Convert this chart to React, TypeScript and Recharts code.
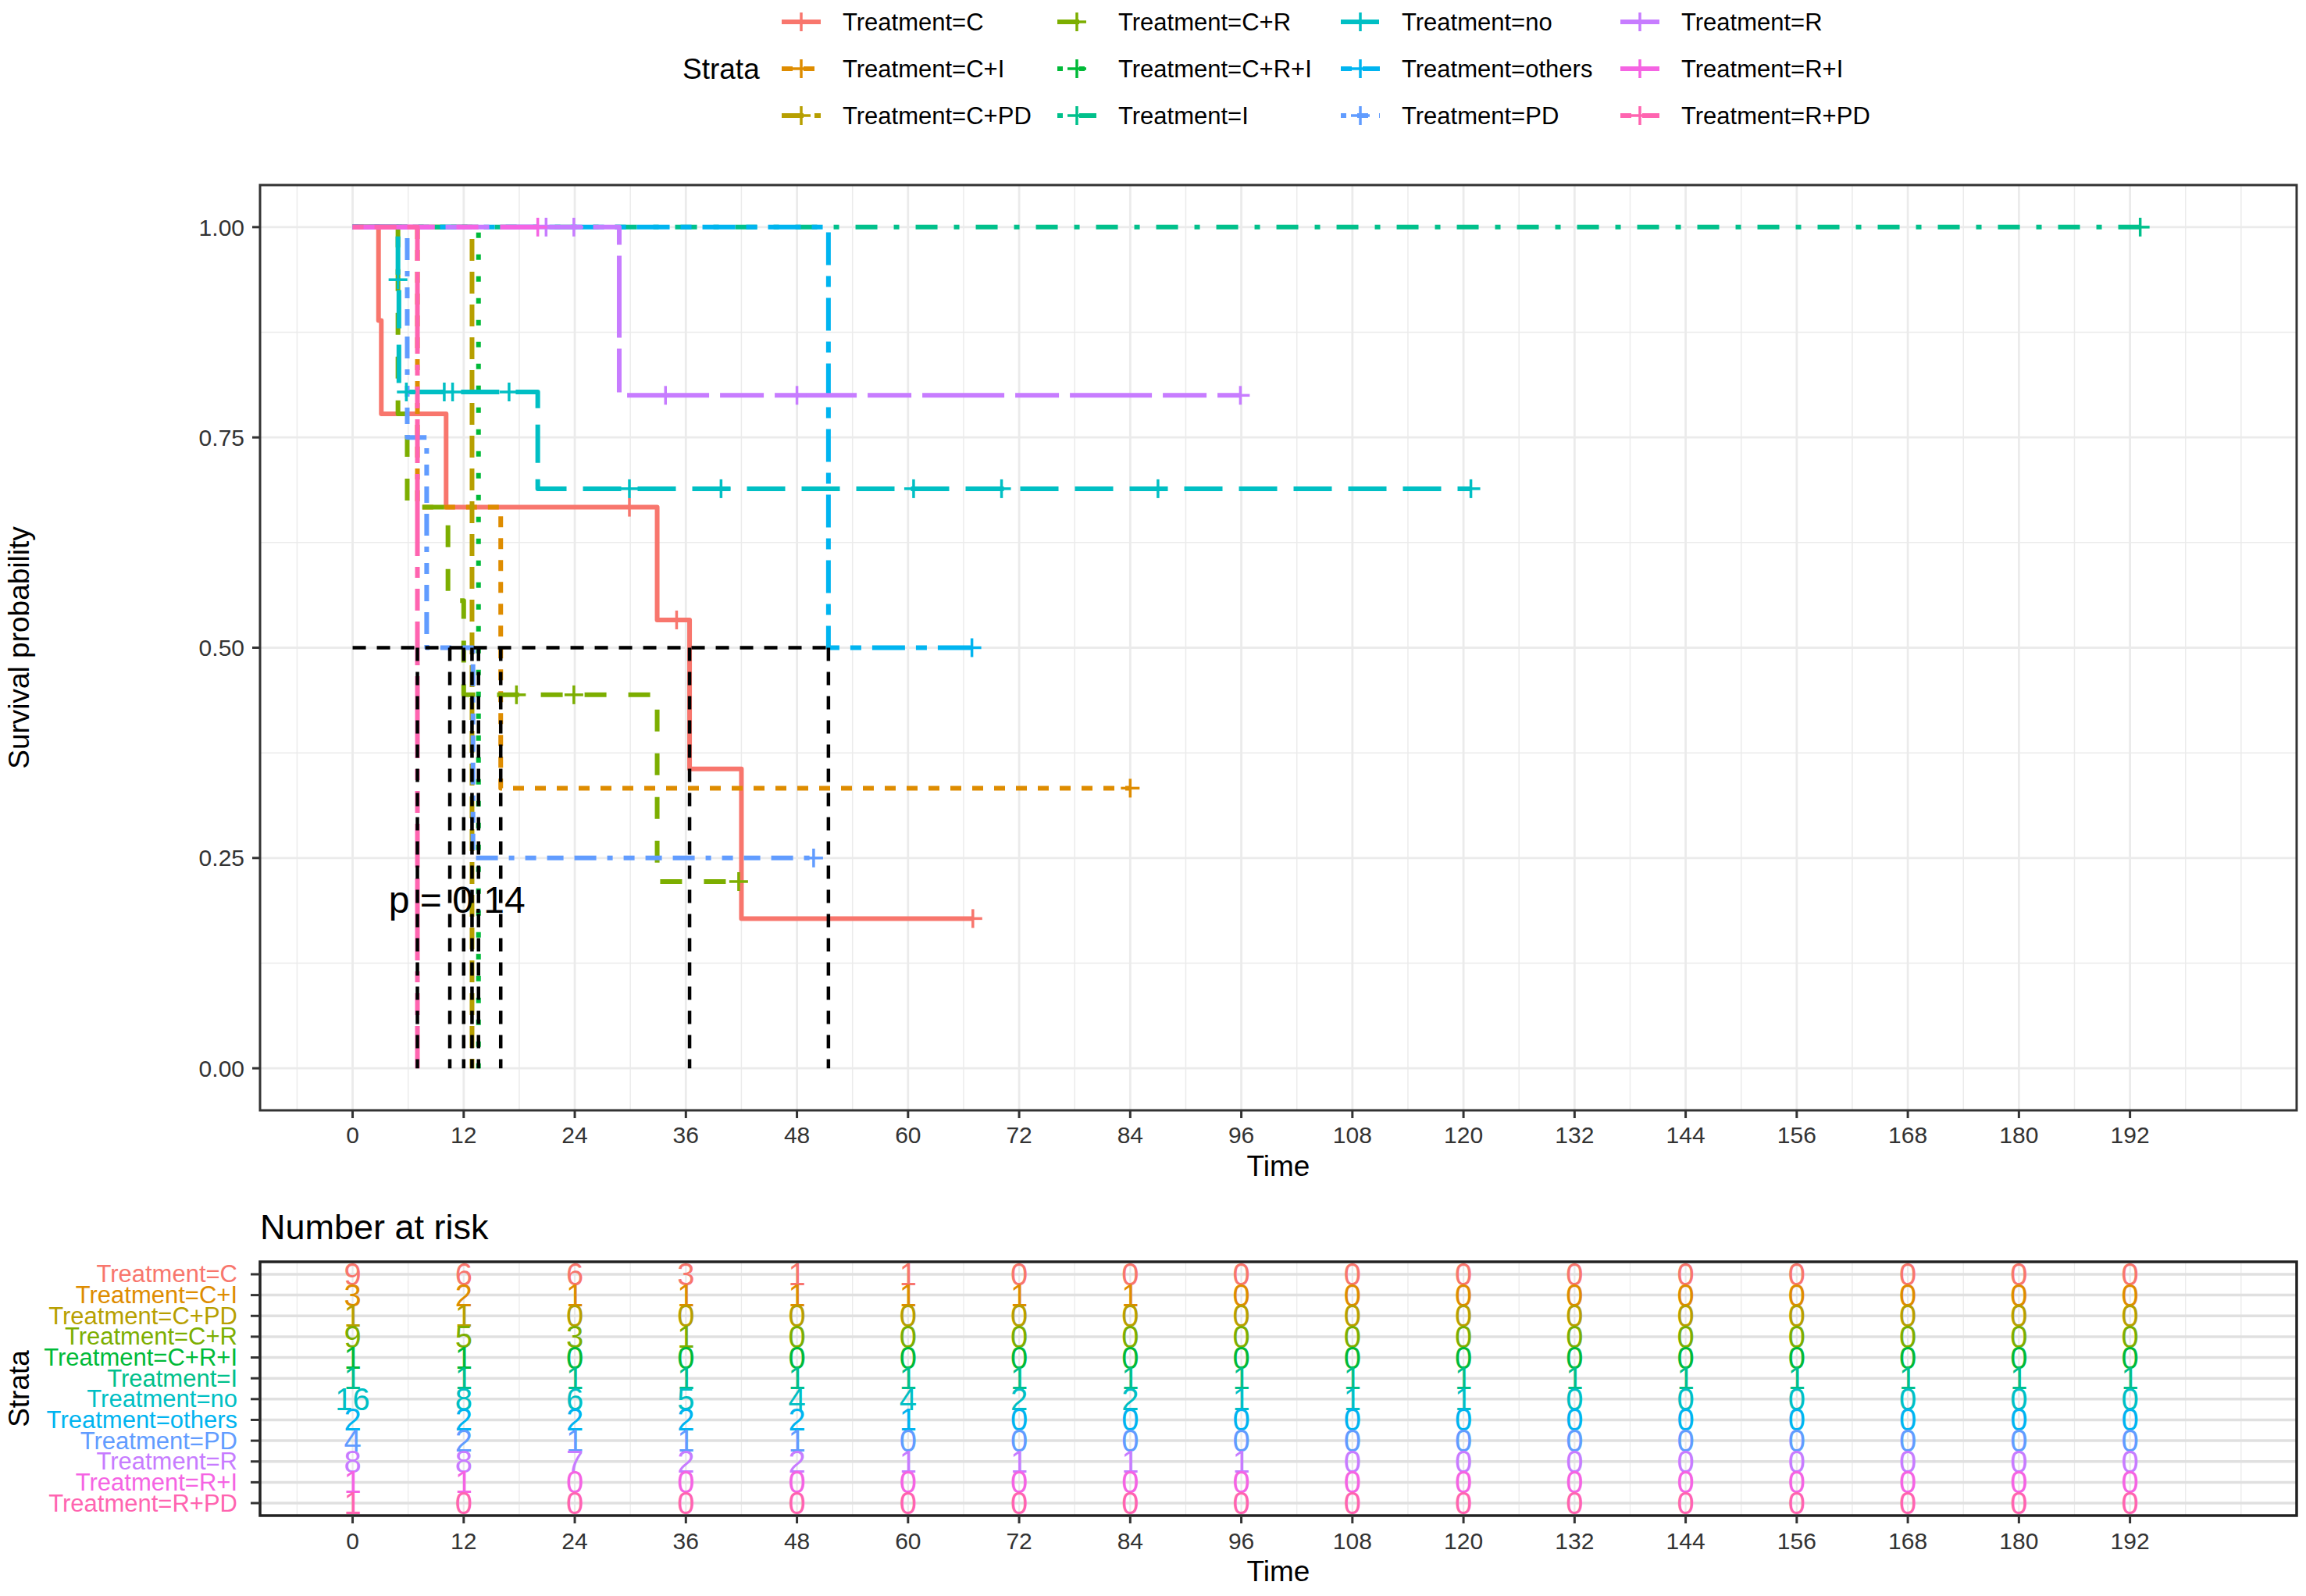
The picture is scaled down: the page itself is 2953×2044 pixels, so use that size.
import React from 'react';
import {
  ComposedChart,
  Line,
  Scatter,
  XAxis,
  YAxis,
  CartesianGrid,
  ReferenceArea,
  ReferenceDot,
} from 'recharts';

const FONT = '"Liberation Sans", Arial, Helvetica, sans-serif';

// ---------- categories ----------
const STRATA = [
  'Treatment=C',
  'Treatment=C+I',
  'Treatment=C+PD',
  'Treatment=C+R',
  'Treatment=C+R+I',
  'Treatment=I',
  'Treatment=no',
  'Treatment=others',
  'Treatment=PD',
  'Treatment=R',
  'Treatment=R+I',
  'Treatment=R+PD',
];
const COLORS = [
  '#F8766D', '#DE8C00', '#B79F00', '#7CAE00', '#00BA38', '#00C08B',
  '#00BFC4', '#00B4F0', '#619CFF', '#C77CFF', '#F564E3', '#FF64B0',
];
const LINETYPES = ['solid', '22', '42', '44', '13', '1343', '73', '2262', '12223242', 'F282', 'F4448444', '224282F2'];

// ---------- tick labels ----------
const TIME_BREAKS = [0, 12, 24, 36, 48, 60, 72, 84, 96, 108, 120, 132, 144, 156, 168, 180, 192];
const TIME_MINOR = [-6, 6, 18, 30, 42, 54, 66, 78, 90, 102, 114, 126, 138, 150, 162, 174, 186, 198, 204];
const SURV_BREAKS = [0, 0.25, 0.5, 0.75, 1];
const SURV_MINOR = [0.125, 0.375, 0.625, 0.875];

// ---------- Kaplan-Meier step values ----------
const C_TIME = [0, 2.8, 3.1, 10.1, 32.9, 36.4, 42.0, 67.0];
const C_SURV = [1, 0.889, 0.778, 0.667, 0.533, 0.356, 0.178, 0.178];
const C_CENSOR = [29.9, 35.0, 67.0];

const CI_TIME = [0, 7.0, 16.0, 84.0];
const CI_SURV = [1, 0.667, 0.333, 0.333];
const CI_CENSOR = [84.0];

const CPD_TIME = [0, 12.9];
const CPD_SURV = [1, 0];
const CPD_CENSOR: number[] = [];

const CR_TIME = [0, 4.9, 5.9, 10.3, 12.0, 32.9, 41.7];
const CR_SURV = [1, 0.778, 0.667, 0.556, 0.444, 0.222, 0.222];
const CR_CENSOR = [17.7, 23.9, 41.7];

const CRI_TIME = [0, 13.6];
const CRI_SURV = [1, 0];
const CRI_CENSOR: number[] = [];

const I_TIME = [0, 193.1];
const I_SURV = [1, 1];
const I_CENSOR = [193.1];

const NO_TIME = [0, 4.9, 5.0, 20.0, 120.8];
const NO_SURV = [1, 0.9375, 0.804, 0.689, 0.689];
const NO_CENSOR = [4.9, 5.8, 9.9, 10.8, 16.9, 29.9, 39.8, 60.6, 70.1, 87.0, 120.8];

const OTH_TIME = [0, 51.4, 66.9];
const OTH_SURV = [1, 0.5, 0.5];
const OTH_CENSOR = [66.9];

const PD_TIME = [0, 5.9, 8.0, 13.0, 49.8];
const PD_SURV = [1, 0.75, 0.5, 0.25, 0.25];
const PD_CENSOR = [49.8];

const R_TIME = [0, 28.8, 95.9];
const R_SURV = [1, 0.8, 0.8];
const R_CENSOR = [20.9, 23.9, 33.8, 48.0, 95.9];

const RI_TIME = [0, 20.0];
const RI_SURV = [1, 1];
const RI_CENSOR = [20.0];

const RPD_TIME = [0, 7.0];
const RPD_SURV = [1, 0];
const RPD_CENSOR: number[] = [];

// median survival times (black dashed reference segments)
const MEDIAN_TIMES = [7.0, 10.5, 12.0, 12.9, 13.6, 16.0, 36.4, 51.4];
const MEDIAN_LEVEL = 0.5;

const P_VALUE_TEXT = 'p = 0.14';
const P_X = 3.9;
const P_Y = 0.2;

// ---------- number at risk ----------
const RISK_C = [9, 6, 6, 3, 1, 1, 0, 0, 0, 0, 0, 0, 0, 0, 0, 0, 0];
const RISK_CI = [3, 2, 1, 1, 1, 1, 1, 1, 0, 0, 0, 0, 0, 0, 0, 0, 0];
const RISK_CPD = [1, 1, 0, 0, 0, 0, 0, 0, 0, 0, 0, 0, 0, 0, 0, 0, 0];
const RISK_CR = [9, 5, 3, 1, 0, 0, 0, 0, 0, 0, 0, 0, 0, 0, 0, 0, 0];
const RISK_CRI = [1, 1, 0, 0, 0, 0, 0, 0, 0, 0, 0, 0, 0, 0, 0, 0, 0];
const RISK_I = [1, 1, 1, 1, 1, 1, 1, 1, 1, 1, 1, 1, 1, 1, 1, 1, 1];
const RISK_NO = [16, 8, 6, 5, 4, 4, 2, 2, 1, 1, 1, 0, 0, 0, 0, 0, 0];
const RISK_OTH = [2, 2, 2, 2, 2, 1, 0, 0, 0, 0, 0, 0, 0, 0, 0, 0, 0];
const RISK_PD = [4, 2, 1, 1, 1, 0, 0, 0, 0, 0, 0, 0, 0, 0, 0, 0, 0];
const RISK_R = [8, 8, 7, 2, 2, 1, 1, 1, 1, 0, 0, 0, 0, 0, 0, 0, 0];
const RISK_RI = [1, 1, 0, 0, 0, 0, 0, 0, 0, 0, 0, 0, 0, 0, 0, 0, 0];
const RISK_RPD = [1, 0, 0, 0, 0, 0, 0, 0, 0, 0, 0, 0, 0, 0, 0, 0, 0];

// ---------- assembled ----------
const KM = [
  { time: C_TIME, surv: C_SURV, censor: C_CENSOR },
  { time: CI_TIME, surv: CI_SURV, censor: CI_CENSOR },
  { time: CPD_TIME, surv: CPD_SURV, censor: CPD_CENSOR },
  { time: CR_TIME, surv: CR_SURV, censor: CR_CENSOR },
  { time: CRI_TIME, surv: CRI_SURV, censor: CRI_CENSOR },
  { time: I_TIME, surv: I_SURV, censor: I_CENSOR },
  { time: NO_TIME, surv: NO_SURV, censor: NO_CENSOR },
  { time: OTH_TIME, surv: OTH_SURV, censor: OTH_CENSOR },
  { time: PD_TIME, surv: PD_SURV, censor: PD_CENSOR },
  { time: R_TIME, surv: R_SURV, censor: R_CENSOR },
  { time: RI_TIME, surv: RI_SURV, censor: RI_CENSOR },
  { time: RPD_TIME, surv: RPD_SURV, censor: RPD_CENSOR },
];
const RISK = [RISK_C, RISK_CI, RISK_CPD, RISK_CR, RISK_CRI, RISK_I, RISK_NO, RISK_OTH, RISK_PD, RISK_R, RISK_RI, RISK_RPD];

const X_DOMAIN: [number, number] = [-10, 210];
const DASH_UNIT = 7;
const LINE_W = 6;

function dashOf(code: string): string | undefined {
  if (code === 'solid') return undefined;
  return code
    .split('')
    .map((h) => parseInt(h, 16) * DASH_UNIT)
    .join(' ');
}

function survAt(time: number[], surv: number[], t: number): number {
  let v = surv[0];
  for (let i = 0; i < time.length; i++) if (time[i] <= t) v = surv[i];
  return v;
}

const SERIES = KM.map((k, i) => ({
  name: STRATA[i],
  color: COLORS[i],
  dash: dashOf(LINETYPES[i]),
  steps: k.time.map((t, j) => ({ t, s: k.surv[j] })),
  censors: k.censor.map((t) => ({ t, s: survAt(k.time, k.surv, t) })),
}));

const MEDIAN_H = [
  { t: 0, s: MEDIAN_LEVEL },
  { t: Math.max(...MEDIAN_TIMES), s: MEDIAN_LEVEL },
];
const MEDIAN_V = MEDIAN_TIMES.map((m) => [
  { t: m, s: MEDIAN_LEVEL },
  { t: m, s: 0 },
]);

const RISK_POINTS = RISK.map((arr, i) => arr.map((n, j) => ({ t: TIME_BREAKS[j], row: i, n })));
const ROWS = STRATA.map((_, i) => i);

const plusShape = (color: string) => (props: any) => {
  const { cx, cy } = props;
  if (cx == null || cy == null) return <g />;
  const h = 12;
  return (
    <g>
      <line x1={cx - h} y1={cy} x2={cx + h} y2={cy} stroke={color} strokeWidth={3.5} />
      <line x1={cx} y1={cy - h} x2={cx} y2={cy + h} stroke={color} strokeWidth={3.5} />
    </g>
  );
};

const riskText = (color: string) => (props: any) => {
  const { cx, cy, payload } = props;
  if (cx == null || cy == null) return <g />;
  return (
    <text x={cx} y={cy} textAnchor="middle" dominantBaseline="central" fill={color} fontSize={40} fontFamily={FONT}>
      {payload.n}
    </text>
  );
};

const StrataTick = (props: any) => {
  const { x, y, payload } = props;
  const i = payload.value;
  return (
    <text x={x} y={y} textAnchor="end" dominantBaseline="central" fill={COLORS[i]} fontSize={31} fontFamily={FONT}>
      {STRATA[i]}
    </text>
  );
};

const tickStyle = { fontSize: 30, fill: '#333333', fontFamily: FONT };
const tickLineStyle = { stroke: '#333333', strokeWidth: 3 };

const XTitle = (props: any) => {
  const vb = props.viewBox || {};
  return (
    <text x={vb.x + vb.width / 2} y={vb.y + 71} textAnchor="middle" dominantBaseline="central" fontSize={37} fontFamily={FONT} fill="#000">
      Time
    </text>
  );
};

const YTitle = (text: string, cx: number) => (props: any) => {
  const vb = props.viewBox || {};
  const cy = vb.y + vb.height / 2;
  return (
    <text
      x={cx}
      y={cy}
      transform={`rotate(-90, ${cx}, ${cy})`}
      textAnchor="middle"
      dominantBaseline="central"
      fontSize={37}
      fontFamily={FONT}
      fill="#000"
    >
      {text}
    </text>
  );
};

const PLabel = (props: any) => {
  const vb = props.viewBox || {};
  return (
    <text x={vb.x} y={vb.y} textAnchor="start" dominantBaseline="central" fontSize={48} fontFamily={FONT} fill="#000">
      {P_VALUE_TEXT}
    </text>
  );
};

const LEG_KEY_X = [1026, 1379, 1742, 2100];
const LEG_TEXT_X = [1079, 1432, 1795, 2153];
const LEG_ROW_Y = [28, 88, 148];

function LegendSvg() {
  return (
    <svg width={2953} height={190} style={{ position: 'absolute', left: 0, top: 0 }}>
      <text x={874} y={LEG_ROW_Y[1]} dominantBaseline="central" fontSize={37} fontFamily={FONT} fill="#000">
        Strata
      </text>
      {SERIES.map((s, i) => {
        const col = Math.floor(i / 3);
        const row = i % 3;
        const cx = LEG_KEY_X[col];
        const cy = LEG_ROW_Y[row];
        return (
          <g key={s.name}>
            <line x1={cx - 25} y1={cy} x2={cx + 25} y2={cy} stroke={s.color} strokeWidth={LINE_W} strokeDasharray={s.dash} />
            <line x1={cx - 12} y1={cy} x2={cx + 12} y2={cy} stroke={s.color} strokeWidth={3.5} />
            <line x1={cx} y1={cy - 12} x2={cx} y2={cy + 12} stroke={s.color} strokeWidth={3.5} />
            <text x={LEG_TEXT_X[col]} y={cy} dominantBaseline="central" fontSize={31} fontFamily={FONT} fill="#000">
              {s.name}
            </text>
          </g>
        );
      })}
    </svg>
  );
}

export default function App() {
  return (
    <div style={{ position: 'absolute', left: 0, top: 0, width: 2953, height: 2044, background: '#fff', fontFamily: FONT }}>
      <LegendSvg />

      {/* survival curves */}
      <div style={{ position: 'absolute', left: 0, top: 0 }}>
        <ComposedChart width={2953} height={1530} margin={{ top: 237, right: 12, bottom: 28, left: 0 }}>
          <CartesianGrid
            verticalValues={TIME_MINOR}
            horizontalValues={SURV_MINOR}
            stroke="#EBEBEB"
            strokeWidth={1.5}
            fill="none"
          />
          <CartesianGrid
            verticalValues={TIME_BREAKS}
            horizontalValues={SURV_BREAKS}
            stroke="#EBEBEB"
            strokeWidth={2.8}
            fill="none"
          />
          <XAxis
            type="number"
            dataKey="t"
            domain={X_DOMAIN}
            ticks={TIME_BREAKS}
            allowDataOverflow
            interval={0}
            height={80}
            axisLine={false}
            tickSize={10}
            tickMargin={11}
            tick={tickStyle}
            tickLine={tickLineStyle}
            label={<XTitle />}
          />
          <YAxis
            type="number"
            dataKey="s"
            domain={[-0.05, 1.05]}
            ticks={SURV_BREAKS}
            allowDataOverflow
            interval={0}
            width={333}
            axisLine={false}
            tickSize={10}
            tickMargin={10}
            tick={tickStyle}
            tickLine={tickLineStyle}
            tickFormatter={(v: number) => v.toFixed(2)}
            label={{ content: YTitle('Survival probability', 24) } as any}
          />
          {SERIES.map((s) => (
            <Line
              key={s.name}
              data={s.steps}
              dataKey="s"
              type="stepAfter"
              stroke={s.color}
              strokeWidth={LINE_W}
              strokeDasharray={s.dash}
              strokeLinecap="butt"
              strokeLinejoin="round"
              dot={false}
              activeDot={false}
              isAnimationActive={false}
            />
          ))}
          {SERIES.map((s) => (
            <Scatter
              key={s.name + '-censor'}
              data={s.censors}
              dataKey="s"
              shape={plusShape(s.color)}
              isAnimationActive={false}
            />
          ))}
          <Line
            data={MEDIAN_H}
            dataKey="s"
            type="linear"
            stroke="#000"
            strokeWidth={4.5}
            strokeDasharray="17 14"
            dot={false}
            activeDot={false}
            isAnimationActive={false}
          />
          {MEDIAN_V.map((d, i) => (
            <Line
              key={'med' + i}
              data={d}
              dataKey="s"
              type="linear"
              stroke="#000"
              strokeWidth={4.5}
              strokeDasharray="17 14"
              dot={false}
              activeDot={false}
              isAnimationActive={false}
            />
          ))}
          <ReferenceDot x={P_X} y={P_Y} r={0} fill="none" stroke="none" label={<PLabel />} />
          <ReferenceArea
            x1={X_DOMAIN[0]}
            x2={X_DOMAIN[1]}
            y1={-0.05}
            y2={1.05}
            fill="none"
            fillOpacity={0}
            stroke="#333333"
            strokeWidth={3}
            ifOverflow="visible"
          />
        </ComposedChart>
      </div>

      {/* number at risk title */}
      <svg width={1000} height={70} style={{ position: 'absolute', left: 0, top: 1536 }}>
        <text x={333} y={35} dominantBaseline="central" fontSize={45} fontFamily={FONT} fill="#000">
          Number at risk
        </text>
      </svg>

      {/* risk table */}
      <div style={{ position: 'absolute', left: 0, top: 1500 }}>
        <ComposedChart width={2953} height={544} margin={{ top: 116, right: 12, bottom: 23, left: 0 }}>
          <CartesianGrid verticalValues={TIME_MINOR} horizontal={false} stroke="#EBEBEB" strokeWidth={1.3} fill="none" />
          <CartesianGrid verticalValues={TIME_BREAKS} horizontal={false} stroke="#EBEBEB" strokeWidth={2.2} fill="none" />
          <CartesianGrid horizontalValues={ROWS} vertical={false} stroke="#E0E0E0" strokeWidth={3.5} fill="none" />
          <XAxis
            type="number"
            dataKey="t"
            domain={X_DOMAIN}
            ticks={TIME_BREAKS}
            allowDataOverflow
            interval={0}
            height={80}
            axisLine={false}
            tickSize={10}
            tickMargin={12}
            tick={tickStyle}
            tickLine={tickLineStyle}
            label={<XTitle />}
          />
          <YAxis
            type="number"
            dataKey="row"
            domain={[-0.6, 11.6]}
            reversed
            ticks={ROWS}
            interval={0}
            allowDataOverflow
            width={333}
            axisLine={false}
            tickSize={12}
            tickMargin={17}
            tick={<StrataTick />}
            tickLine={tickLineStyle}
            label={{ content: YTitle('Strata', 24) } as any}
          />
          {RISK_POINTS.map((pts, i) => (
            <Scatter
              key={'risk' + i}
              data={pts}
              dataKey="row"
              shape={riskText(COLORS[i])}
              isAnimationActive={false}
            />
          ))}
          <ReferenceArea
            x1={X_DOMAIN[0]}
            x2={X_DOMAIN[1]}
            y1={-0.6}
            y2={11.6}
            fill="none"
            fillOpacity={0}
            stroke="#222222"
            strokeWidth={3.5}
            ifOverflow="visible"
          />
        </ComposedChart>
      </div>
    </div>
  );
}
